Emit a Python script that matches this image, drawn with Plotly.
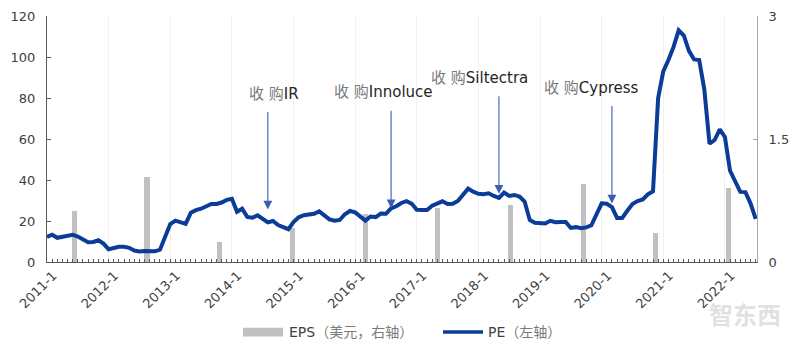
import plotly.graph_objects as go

# Monthly PE ratio (left axis), Jan 2011 - Jul 2022
pe = [
    12.3, 13.3, 11.8, 12.3, 13.0, 13.3, 12.4, 10.8, 9.6, 9.8, 10.6, 9.0,
    6.2, 6.8, 7.4, 7.4, 6.9, 5.6, 5.1, 5.4, 5.2, 5.2, 6.0, 12.0,
    18.5, 20.2, 19.5, 18.6, 24.0, 25.3, 26.0, 27.0, 28.3, 28.3, 29.0, 30.3,
    30.8, 24.5, 26.0, 22.0, 21.6, 22.8, 21.3, 19.3, 20.0, 18.0, 17.0, 16.0,
    19.5, 21.8, 22.8, 23.2, 23.5, 24.7, 22.5, 20.8, 20.1, 20.5, 23.3, 24.9,
    24.2, 22.2, 20.2, 22.2, 21.9, 23.6, 23.5, 26.2, 27.2, 28.8, 29.7, 28.5,
    25.5, 25.4, 25.4, 27.5, 28.8, 29.6, 28.3, 28.4, 29.8, 33.0, 35.8, 34.3,
    33.3, 33.1, 33.5, 32.2, 31.3, 33.9, 32.2, 32.7, 31.9, 29.5, 20.5, 19.1,
    19.1, 18.8, 20.1, 19.4, 19.5, 19.5, 16.6, 17.0, 16.5, 16.9, 17.9, 23.0,
    28.6, 28.4, 26.8, 21.5, 21.5, 25.0, 28.3, 29.7, 30.5, 33.0, 34.5, 80.0,
    93.0, 98.5, 104.9, 113.0, 110.5, 103.0, 98.8, 98.5, 84.0, 57.7, 59.5, 64.7,
    61.0, 44.5, 38.8, 34.2, 34.1, 28.5, 21.0,
]
months = [f"{2011 + i // 12}-{i % 12 + 1}" for i in range(len(pe))]
year_ticks = [f"{y}-1" for y in range(2011, 2023)]

# Annual EPS in USD (right axis)
eps_years = ["2012", "2013", "2014", "2015", "2016",
             "2017", "2018", "2019", "2020", "2021"]
eps = [0.62, 1.04, 0.25, 0.42, 0.58, 0.66, 0.70, 0.95, 0.35, 0.90]

# Acquisitions: label, month, PE level the arrow points at
deals = [
    ("IR", "2014-8", 25.6),
    ("Innoluce", "2016-8", 26.2),
    ("Siltectra", "2018-5", 33.3),
    ("Cypress", "2020-3", 28.5),
]

BLUE = "#0b3c98"
AXIS = "#595959"
TXT = "#404040"
CJK = "#7a7a7a"
FONT = "DejaVu Sans, Noto Sans CJK SC, sans-serif"

fig = go.Figure()

fig.add_trace(go.Bar(
    x=eps_years, y=eps, xaxis="x", yaxis="y",
    marker=dict(color="#c0c0c0", line=dict(width=0)),
    width=0.07, name="EPS", showlegend=False,
))

month_idx = list(range(len(pe)))
fig.add_trace(go.Scatter(
    x=month_idx, y=pe, xaxis="x2", yaxis="y2", mode="lines",
    line=dict(color=BLUE, width=4), name="PE", showlegend=False,
))

annotations = []
for name, month, level in deals:
    i = months.index(month)
    annotations.append(dict(
        x=i, y=level, xref="x2", yref="y2", text="", showarrow=True,
        ax=0, ay=-99, arrowhead=2, arrowsize=1.6, arrowwidth=1.1,
        arrowcolor="#3a5fb2",
    ))
    shift = {"IR": 6, "Innoluce": -8, "Siltectra": -19, "Cypress": -20}[name]
    annotations.append(dict(
        x=i, y=level, xref="x2", yref="y2", showarrow=False,
        text=f"<span style='color:{CJK}'>收 购</span>{name}",
        font=dict(family=FONT, size=15, color="#262626"),
        xanchor="center", yanchor="middle", yshift=116, xshift=shift,
    ))

# Legend drawn along the bottom
annotations += [
    dict(x=(287 - 47) / 710, y=-0.285, xref="paper", yref="paper",
         xanchor="left", yanchor="middle", showarrow=False,
         text=f"EPS<span style='color:{CJK}'>（美元，右轴）</span>",
         font=dict(family=FONT, size=14, color=TXT)),
    dict(x=(486 - 47) / 710, y=-0.285, xref="paper", yref="paper",
         xanchor="left", yanchor="middle", showarrow=False,
         text=f"PE<span style='color:{CJK}'>（左轴）</span>",
         font=dict(family=FONT, size=14, color=TXT)),
    dict(x=(745 - 47) / 710, y=-0.21, xref="paper", yref="paper",
         xanchor="center", yanchor="middle", showarrow=False,
         text="<b>智东西</b>",
         font=dict(family="Noto Sans CJK SC", size=24,
                   color="rgba(215,215,215,0.75)")),
]
shapes = [
    dict(type="rect", xref="paper", yref="paper",
         x0=(243 - 47) / 710, x1=(283 - 47) / 710,
         y0=-0.267, y1=-0.303, fillcolor="#c0c0c0", line=dict(width=0)),
    dict(type="line", xref="paper", yref="paper",
         x0=(443 - 47) / 710, x1=(483 - 47) / 710,
         y0=-0.285, y1=-0.285, line=dict(color=BLUE, width=3.5)),
]

fig.update_layout(
    width=800, height=350, autosize=False,
    margin=dict(l=47, r=43, t=9, b=88),
    paper_bgcolor="white", plot_bgcolor="white",
    font=dict(family=FONT, size=13, color=TXT),
    showlegend=False,
    bargap=0,
    xaxis=dict(
        type="category", range=[-0.3755, 9.39], visible=False,
        fixedrange=True,
    ),
    yaxis=dict(
        side="right", range=[0, 3], tickvals=[0, 1.5, 3],
        ticktext=["0", "1.5", "3"], showgrid=False, zeroline=False,
        showline=True, linecolor="#a6a6a6", linewidth=1,
        ticks="inside", ticklen=4, tickcolor="#a6a6a6",
        ticklabelstandoff=8, tickfont=dict(size=13, color=TXT),
    ),
    xaxis2=dict(
        overlaying="x", anchor="y2", range=[0, 138.25],
        tickvals=[months.index(m) for m in year_ticks], ticktext=year_ticks,
        tickangle=-45, tickfont=dict(size=13, color=TXT),
        ticklabelshift=6,
        showline=True, linecolor=AXIS, linewidth=1,
        ticks="inside", ticklen=3, tickcolor=AXIS,
        minor=dict(dtick=1, tick0=0, ticks="inside", ticklen=3,
                   tickcolor=AXIS, showgrid=False),
        showgrid=True, gridcolor="#f0f0f0", gridwidth=1, zeroline=False,
    ),
    yaxis2=dict(
        overlaying="y", side="left", anchor="x2", range=[0, 120],
        dtick=20, showgrid=False, zeroline=False,
        showline=True, linecolor=AXIS, linewidth=1,
        ticks="inside", ticklen=4, tickcolor=AXIS,
        ticklabelstandoff=8, tickfont=dict(size=13, color=TXT),
    ),
    annotations=annotations,
    shapes=shapes,
)

fig.write_html("out.html")
